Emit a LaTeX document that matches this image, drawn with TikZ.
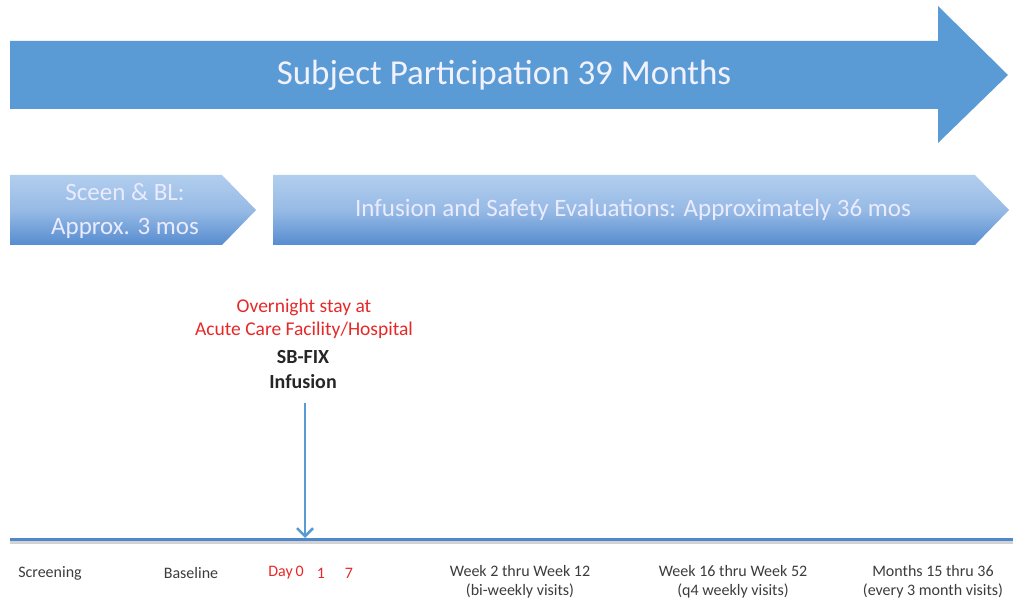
\documentclass[tikz,border=0pt]{standalone}
\usepackage{fontspec}
\setmainfont{Carlito}
\usetikzlibrary{arrows.meta}
\definecolor{bigblue}{RGB}{91,155,213}
\definecolor{chevtop}{RGB}{178,206,238}
\definecolor{chevbot}{RGB}{86,140,208}
\definecolor{lineblue}{RGB}{79,135,200}
\definecolor{redtxt}{RGB}{230,40,40}
\definecolor{labgray}{RGB}{60,60,60}
\tikzset{
  chev/.style={top color=chevtop, bottom color=chevbot, middle color=chevtop!70!chevbot, draw=none},
  chevtext/.style={text=white!92!blue, font=\fontsize{25}{34}\selectfont, align=center},
  redlab/.style={text=redtxt, font=\fontsize{19.5}{22}\selectfont},
  blacklab/.style={text=black!85, font=\fontsize{20}{22}\selectfont\bfseries},
  timelab/.style={text=labgray, font=\fontsize{16}{19}\selectfont, align=center},
}
\begin{document}
\begin{tikzpicture}[x=1pt,y=-1pt]
\useasboundingbox (0,0) rectangle (1013,604);
% big arrow
\fill[bigblue] (10,41) -- (938,41) -- (938,6) -- (1008,75) -- (938,143) -- (938,109) -- (10,109) -- cycle;
\node[text=white!95!blue, font=\fontsize{35}{40}\selectfont] (title) at (504,75) {Subject Participation 39 Months};
% chevrons
\path[chev] (10,175) -- (222,175) -- (256,210) -- (222,245) -- (10,245) -- cycle;
\node[chevtext] (scr) at (125,211) {Sceen \& BL:\\Approx. 3 mos};
\path[chev] (273,175) -- (975,175) -- (1009,210) -- (975,245) -- (273,245) -- cycle;
\node[chevtext] (inf) at (633,210) {Infusion and Safety Evaluations: Approximately 36 mos};
% infusion labels
\node[redlab] (ov) at (304,307) {Overnight stay at};
\node[redlab] (acf) at (304,330) {Acute Care Facility/Hospital};
\node[blacklab] (sb) at (303,357) {SB-FIX};
\node[blacklab] (infu) at (303,382) {Infusion};
% timeline
\coordinate (tl) at (10,539);
\coordinate (tr) at (1013,539);
\draw[gray!35, line width=2.5pt] (10,542.5) -- (1013,542.5);
\draw[lineblue, line width=3pt] (tl) -- (tr);
\coordinate (d0) at (305,538);
\coordinate (astart) at (305,403);
\draw[bigblue, line width=2.5pt, -{Straight Barb[length=8pt,width=16pt,line width=2.5pt]}] (astart) -- (d0);
% bottom labels
\node[timelab] (l1) at (50,573) {Screening};
\node[timelab] (l2) at (191,573) {Baseline};
\node[timelab, text=redtxt] (l3) at (286,573) {Day\,0};
\node[timelab, text=redtxt] (l4) at (321,573) {1};
\node[timelab, text=redtxt] (l5) at (349,573) {7};
\node[timelab] (l6) at (520,582) {Week 2 thru Week 12\\(bi-weekly visits)};
\node[timelab] (l7) at (733,582) {Week 16 thru Week 52\\(q4 weekly visits)};
\node[timelab] (l8) at (933,582) {Months 15 thru 36\\(every 3 month visits)};
\end{tikzpicture}
\end{document}
